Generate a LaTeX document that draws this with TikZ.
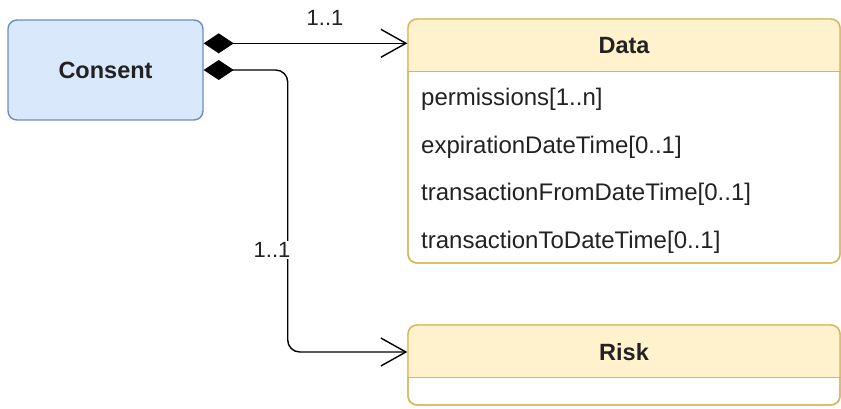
\documentclass[tikz,border=0pt]{standalone}
\usepackage{fontspec}
\setmainfont{Liberation Sans}
\usepackage{tikz}
\usetikzlibrary{arrows.meta}
\usetikzlibrary{calc}

\definecolor{consentfill}{HTML}{DAE8FC}
\definecolor{consentline}{HTML}{6C8EBF}
\definecolor{classfill}{HTML}{FFF2CC}
\definecolor{classline}{HTML}{D6B656}
\definecolor{inkgray}{HTML}{222222}

\tikzset{
    entity/.style={draw=consentline, fill=consentfill, line width=1.4pt, rounded corners=9pt,
        minimum width=195pt, minimum height=100pt, text=inkgray,
        font=\fontsize{23.5}{27}\selectfont\bfseries},
    classbox/.style={draw=classline, line width=1.4pt, rounded corners=9pt, inner sep=0pt},
    classname/.style={text=inkgray, font=\fontsize{23.5}{27}\selectfont\bfseries},
    attr/.style={anchor=west, inner sep=0pt, text=inkgray, font=\fontsize{24}{28}\selectfont},
    mult/.style={text=inkgray, inner sep=1pt, font=\fontsize{22}{25}\selectfont},
    assoc/.style={line width=1.4pt, {Diamond[length=30pt,width=20pt]}-{Straight Barb[length=25pt,width=28pt]}}
}

\begin{document}
\begin{tikzpicture}[x=1pt,y=-1pt]
    \useasboundingbox (0,0) rectangle (841,408);

    % Consent
    \node[entity] (consent) at (105.5,70) {Consent};

    % Data class
    \node[classbox, minimum width=432pt, minimum height=244pt] (data) at (624,141) {};
    \begin{scope}
        \clip[rounded corners=9pt] (data.south west) rectangle (data.north east);
        \fill[classfill] (data.north west) rectangle ($(data.north east)+(0,53)$);
    \end{scope}
    \node[classbox, minimum width=432pt, minimum height=244pt] at (data) {};
    \draw[classline, line width=1.4pt] ($(data.north west)+(0,53)$) -- ($(data.north east)+(0,53)$);
    \node[classname] (dataname) at (624,46) {Data};
    \foreach \txt [count=\i] in {permissions[1..n], expirationDateTime[0..1],
        transactionFromDateTime[0..1], transactionToDateTime[0..1]}
        \node[attr] (attr\i) at (421,{52+47.5*\i}) {\txt};

    % Risk class
    \node[classbox, minimum width=432pt, minimum height=80pt] (risk) at (624,365) {};
    \begin{scope}
        \clip[rounded corners=9pt] (risk.south west) rectangle (risk.north east);
        \fill[classfill] (risk.north west) rectangle ($(risk.north east)+(0,53)$);
    \end{scope}
    \node[classbox, minimum width=432pt, minimum height=80pt] at (risk) {};
    \draw[classline, line width=1.4pt] ($(risk.north west)+(0,53)$) -- ($(risk.north east)+(0,53)$);
    \node[classname] (riskname) at (624,352) {Risk};

    % associations
    \coordinate (c1) at ($(consent.north east)+(0,24)$);
    \draw[assoc] (c1) -- (c1 -| data.west);
    \node[mult] (m1) at (325,18) {1..1};
    \draw[assoc, rounded corners=12pt] (consent.east) -- ++(84,0) |- (risk.west |- riskname);
    \node[mult, fill=white] (m2) at (272,250) {1..1};
\end{tikzpicture}
\end{document}
